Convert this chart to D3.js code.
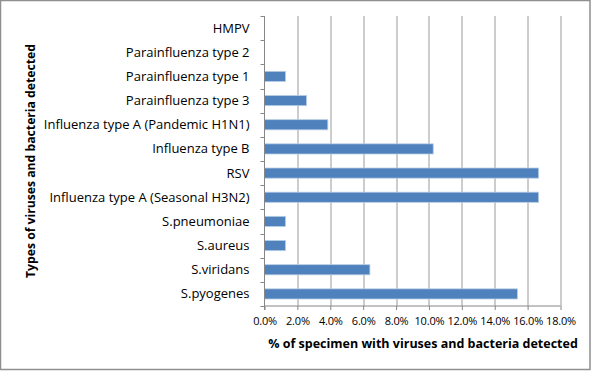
<!DOCTYPE html>
<html>
<head>
<meta charset="utf-8">
<script src="https://cdn.jsdelivr.net/npm/d3@7"></script>
<style>
  body { margin: 0; background: #fff; }
  svg { display: block; }
  .axisText { font-family: "Open Sans", "Liberation Sans", sans-serif; fill: #000; }
</style>
</head>
<body>
<div id="chart"></div>
<script>
// Data (top to bottom)
var categories = [
    "HMPV",
    "Parainfluenza type 2",
    "Parainfluenza type 1",
    "Parainfluenza type 3",
    "Influenza type A (Pandemic H1N1)",
    "Influenza type B",
    "RSV",
    "Influenza type A (Seasonal H3N2)",
    "S.pneumoniae",
    "S.aureus",
    "S.viridans",
    "S.pyogenes"
];
var percentDetected = [0, 0, 1.28, 2.56, 3.85, 10.26, 16.67, 16.67, 1.28, 1.28, 6.41, 15.38];
var xTicks = [0, 2, 4, 6, 8, 10, 12, 14, 16, 18];

// Set up the chart
var svgWidth = 591;
var svgHeight = 371;

var margin = { top: 16, right: 30.5, bottom: 65, left: 264.5 };
var width = 296;
var height = 290;

var svg = d3.select("#chart")
    .append("svg")
    .attr("width", svgWidth)
    .attr("height", svgHeight);

// outer frame
svg.append("rect")
    .attr("x", 0.5)
    .attr("y", 0.5)
    .attr("width", svgWidth - 1.5)
    .attr("height", svgHeight - 2)
    .attr("fill", "none")
    .attr("stroke", "#8f8f8f")
    .attr("stroke-width", 1.5);

var chartGroup = svg.append("g")
    .attr("transform", `translate(${margin.left}, ${margin.top})`);

// scales
var xLinearScale = d3.scaleLinear()
    .domain([0, 18])
    .range([0, width]);

var yBandScale = d3.scaleBand()
    .domain(categories)
    .range([0, height])
    .paddingInner(0.58)
    .paddingOuter(0.29);

// vertical gridlines
chartGroup.selectAll(".grid")
    .data(xTicks.slice(1))
    .enter()
    .append("line")
    .attr("x1", d => Math.round(xLinearScale(d)) + 0.5)
    .attr("x2", d => Math.round(xLinearScale(d)) + 0.5)
    .attr("y1", 0)
    .attr("y2", height)
    .attr("stroke", "#9a9a9a")
    .attr("stroke-width", 1);

// bars
chartGroup.selectAll(".bar")
    .data(categories)
    .enter()
    .filter((d, i) => percentDetected[i] > 0)
    .append("rect")
    .attr("x", 0)
    .attr("y", d => yBandScale(d))
    .attr("width", d => xLinearScale(percentDetected[categories.indexOf(d)]))
    .attr("height", yBandScale.bandwidth())
    .attr("fill", "#4f81bd")
    .attr("stroke", "#b9cde5")
    .attr("stroke-width", 0.8);

// x axis
var bottomAxis = d3.axisBottom(xLinearScale)
    .tickValues(xTicks)
    .tickSize(4)
    .tickFormat(d => d.toFixed(1) + "%");

var xAxisGroup = chartGroup.append("g")
    .attr("transform", `translate(0, ${height})`)
    .call(bottomAxis);
xAxisGroup.select(".domain").remove();
xAxisGroup.append("line")
    .attr("x1", 0).attr("x2", width)
    .attr("stroke", "#868686");
xAxisGroup.selectAll(".tick line").attr("stroke", "#868686");
xAxisGroup.selectAll(".tick text")
    .attr("class", "axisText")
    .attr("y", 11)
    .style("font-size", "11px")
    .style("letter-spacing", "-0.2px");

// y axis: ticks sit on the category boundaries
var boundaries = d3.range(categories.length + 1).map(i => yBandScale.step() * i);
chartGroup.selectAll(".ytick")
    .data(boundaries)
    .enter()
    .append("line")
    .attr("x1", -4)
    .attr("x2", 0)
    .attr("y1", d => Math.round(d) + 0.5)
    .attr("y2", d => Math.round(d) + 0.5)
    .attr("stroke", "#868686");

chartGroup.append("line")
    .attr("x1", 0).attr("x2", 0)
    .attr("y1", 0).attr("y2", height + 4)
    .attr("stroke", "#868686");

chartGroup.selectAll(".ylabel")
    .data(categories)
    .enter()
    .append("text")
    .attr("class", "axisText")
    .attr("x", -15)
    .attr("y", d => yBandScale(d) + yBandScale.bandwidth() / 2)
    .attr("dy", "0.35em")
    .style("text-anchor", "end")
    .style("font-size", "13px")
    .text(d => d);

// Text for x-axis
svg.append("text")
    .attr("class", "axisText")
    .attr("x", 423)
    .attr("y", 348)
    .style("text-anchor", "middle")
    .style("font-size", "12.5px")
    .style("font-weight", "bold")
    .text("% of specimen with viruses and bacteria detected");

// Text for y-axis
svg.append("text")
    .attr("class", "axisText")
    .attr("transform", "translate(35, 161) rotate(-90)")
    .style("text-anchor", "middle")
    .style("font-size", "12.2px")
    .style("font-weight", "bold")
    .text("Types of viruses and bacteria detected");
</script>
</body>
</html>
